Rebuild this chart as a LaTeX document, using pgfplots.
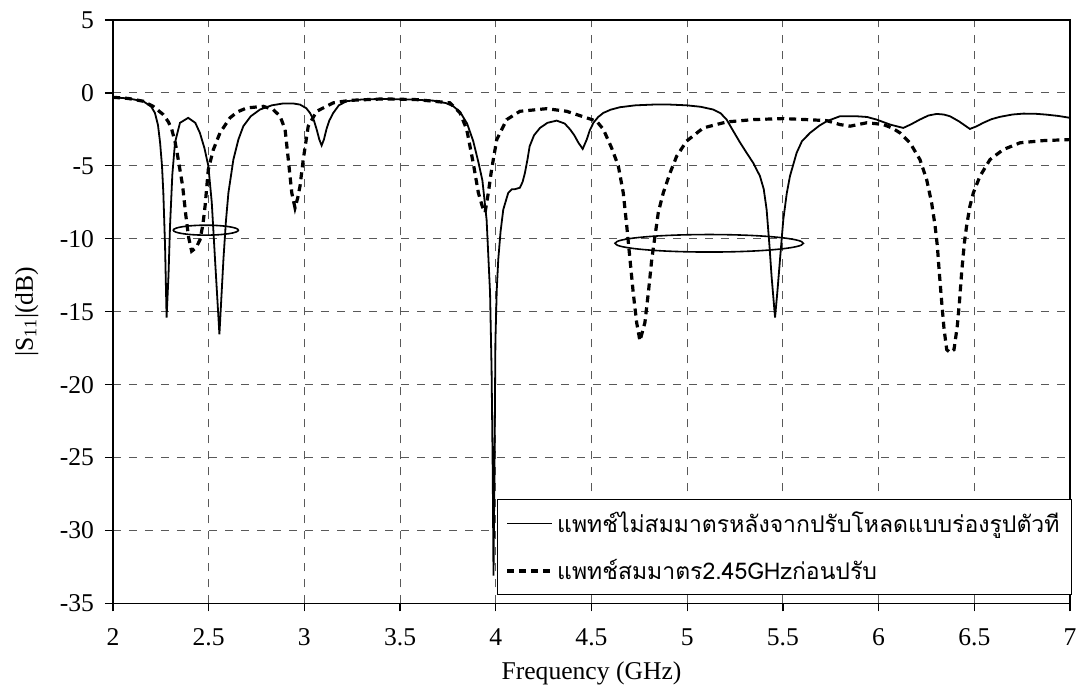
\documentclass[border=0pt]{standalone}
\usepackage{fontspec}
\setmainfont{Liberation Serif}
\newfontfamily\thaifont[Script=Thai]{Loma}
\usepackage{pgfplots}
\pgfplotsset{compat=1.18}
\begin{document}
\begin{tikzpicture}
\begin{axis}[
  scale only axis, width=478.5pt, height=291.7pt,
  xmin=2, xmax=7, ymin=-35, ymax=5,
  xtick={2,2.5,3,3.5,4,4.5,5,5.5,6,6.5,7},
  xticklabels={2,2.5,3,3.5,4,4.5,5,5.5,6,6.5,7},
  ytick={-35,-30,-25,-20,-15,-10,-5,0,5},
  yticklabels={-35,-30,-25,-20,-15,-10,-5,0,5},
  grid=major,
  major grid style={dash pattern=on 4pt off 4pt, black!65, line width=0.5pt},
  tick align=outside, tick pos=left, major tick length=4pt,
  tick style={black, line width=0.6pt},
  axis line style={line width=0.8pt},
  font=\fontsize{12.8}{15}\selectfont,
  xticklabel style={yshift=-5pt},
  yticklabel style={xshift=-2pt},
  xlabel={Frequency (GHz)},
  ylabel={|S\textsubscript{11}|(dB)},
  xlabel style={at={(axis description cs:0.5,-0.1195)}, anchor=center},
  ylabel style={at={(axis description cs:-0.0902,0.5)}, anchor=center},
  legend cell align=left,
  legend style={at={(rel axis cs:0.4013,0.0142)}, anchor=south west,
    draw=black, line width=0.6pt, font=\thaifont\fontsize{11.5}{14}\selectfont,
    row sep=8pt, inner xsep=4pt, inner ysep=4pt},
  legend image code/.code={\draw[#1] (0cm,0cm) -- (0.78cm,0cm);},
]
\addplot[black, line width=0.9pt] coordinates {
(2.000,-0.30) (2.080,-0.38) (2.158,-0.57) (2.200,-0.95) (2.219,-1.37) (2.235,-2.2)
(2.246,-3.4) (2.256,-5.0) (2.263,-6.85) (2.272,-10.5) (2.280,-15.4) (2.290,-12.5)
(2.298,-9.1) (2.310,-5.6) (2.324,-3.4) (2.350,-2.05) (2.393,-1.71) (2.430,-2.05)
(2.454,-2.74) (2.478,-3.8) (2.498,-5.0) (2.516,-7.5) (2.533,-11.4) (2.556,-16.55)
(2.577,-11.4) (2.590,-8.8) (2.603,-6.85) (2.629,-4.57) (2.655,-3.2) (2.681,-2.28)
(2.720,-1.6) (2.768,-1.14) (2.830,-0.85) (2.890,-0.72) (2.940,-0.72) (2.977,-0.8)
(3.010,-1.05) (3.029,-1.37) (3.050,-1.9) (3.064,-2.5) (3.078,-3.2) (3.090,-3.6)
(3.102,-3.2) (3.115,-2.5) (3.130,-1.9) (3.151,-1.37) (3.180,-0.85) (3.220,-0.57)
(3.300,-0.45) (3.412,-0.41) (3.550,-0.45) (3.673,-0.53) (3.740,-0.7) (3.778,-0.92)
(3.813,-1.3) (3.850,-2.1) (3.882,-3.3) (3.910,-4.8) (3.930,-6.0) (3.952,-8.7)
(3.970,-13.7) (3.978,-19.0) (3.984,-26.0) (3.988,-33.1) (3.993,-26.0) (3.998,-17.0)
(4.005,-13.5) (4.013,-11.4) (4.025,-9.5) (4.039,-8.0) (4.065,-6.85) (4.085,-6.6)
(4.100,-6.6) (4.126,-6.5) (4.140,-6.1) (4.152,-5.5) (4.165,-4.6) (4.177,-3.65)
(4.200,-2.9) (4.231,-2.4) (4.270,-2.05) (4.318,-1.9) (4.360,-2.1) (4.388,-2.5)
(4.410,-2.9) (4.431,-3.4) (4.454,-3.84) (4.475,-3.2) (4.490,-2.6) (4.510,-2.05)
(4.535,-1.65) (4.562,-1.37) (4.600,-1.15) (4.649,-0.98) (4.730,-0.85) (4.823,-0.8)
(4.910,-0.8) (4.997,-0.85) (5.070,-0.95) (5.136,-1.14) (5.175,-1.4) (5.206,-1.83)
(5.240,-2.6) (5.276,-3.4) (5.310,-4.1) (5.345,-4.8) (5.380,-5.7) (5.400,-6.6)
(5.415,-8.0) (5.430,-10.5) (5.441,-12.6) (5.459,-15.4) (5.472,-13.5) (5.485,-11.4)
(5.502,-8.7) (5.520,-6.9) (5.537,-5.7) (5.572,-4.1) (5.600,-3.3) (5.642,-2.74)
(5.690,-2.25) (5.729,-1.94) (5.798,-1.6) (5.885,-1.6) (5.940,-1.65) (5.990,-1.83)
(6.060,-2.17) (6.129,-2.4) (6.170,-2.15) (6.215,-1.83) (6.260,-1.55) (6.303,-1.44)
(6.340,-1.48) (6.373,-1.6) (6.420,-1.95) (6.477,-2.47) (6.510,-2.3) (6.547,-2.05)
(6.590,-1.8) (6.634,-1.64) (6.700,-1.48) (6.756,-1.42) (6.820,-1.43) (6.878,-1.49)
(6.940,-1.58) (7.000,-1.71)
};
\addlegendentry{แพทช์ไม่สมมาตรหลังจากปรับโหลดแบบร่องรูปตัวที}
\addplot[black, line width=1.6pt, dash pattern=on 3.5pt off 2.5pt] coordinates {
(2.000,-0.30) (2.080,-0.38) (2.158,-0.57) (2.210,-0.92) (2.263,-1.49) (2.290,-2.0)
(2.307,-2.5) (2.325,-3.4) (2.341,-4.57) (2.364,-6.4) (2.381,-8.45) (2.395,-9.9)
(2.411,-10.85) (2.435,-10.6) (2.455,-10.05) (2.470,-9.0) (2.481,-7.77) (2.498,-5.25)
(2.524,-3.9) (2.559,-2.74) (2.611,-1.71) (2.650,-1.3) (2.699,-1.03) (2.785,-0.92)
(2.837,-1.14) (2.873,-1.6) (2.899,-2.5) (2.916,-4.57) (2.934,-6.85) (2.951,-7.88)
(2.965,-7.2) (2.977,-6.4) (2.994,-4.57) (3.020,-2.28) (3.064,-1.26) (3.151,-0.68)
(3.238,-0.51) (3.412,-0.41) (3.587,-0.46) (3.761,-0.68) (3.813,-1.37) (3.848,-2.5)
(3.882,-4.8) (3.909,-6.85) (3.930,-7.8) (3.944,-8.2) (3.961,-6.85) (3.978,-5.25)
(4.005,-3.2) (4.057,-1.83) (4.126,-1.26) (4.266,-1.08) (4.370,-1.26) (4.475,-1.71)
(4.527,-1.94) (4.562,-2.5) (4.605,-3.77) (4.640,-5.0) (4.666,-6.85) (4.684,-9.1)
(4.701,-11.4) (4.718,-13.7) (4.736,-15.75) (4.753,-17.0) (4.779,-15.75) (4.797,-13.7)
(4.815,-11.4) (4.832,-9.8) (4.849,-8.2) (4.875,-6.85) (4.910,-5.5) (4.945,-4.34)
(4.997,-3.3) (5.084,-2.4) (5.206,-1.99) (5.345,-1.83) (5.502,-1.76) (5.624,-1.83)
(5.729,-1.9) (5.798,-2.17) (5.851,-2.28) (5.900,-2.15) (5.938,-2.05) (5.980,-2.1)
(6.025,-2.17) (6.070,-2.4) (6.112,-2.74) (6.164,-3.42) (6.216,-4.57) (6.251,-5.94)
(6.277,-7.53) (6.295,-9.1) (6.307,-10.5) (6.317,-12.3) (6.330,-14.4) (6.342,-16.2)
(6.356,-17.6) (6.373,-17.8) (6.394,-17.6) (6.411,-16.0) (6.422,-14.4) (6.434,-12.3)
(6.448,-10.3) (6.460,-9.1) (6.477,-7.77) (6.495,-6.85) (6.530,-5.7) (6.582,-4.57)
(6.652,-3.88) (6.739,-3.42) (6.861,-3.27) (7.000,-3.2)
};
\addlegendentry{แพทช์สมมาตร2.45GHzก่อนปรับ}
\draw[black, line width=0.8pt] (axis cs:2.485,-9.41) ellipse [x radius=0.17, y radius=0.34];
\draw[black, line width=0.8pt] (axis cs:5.115,-10.31) ellipse [x radius=0.492, y radius=0.6];
\end{axis}
\pgfresetboundingbox
\path[use as bounding box] ([xshift=-56.5pt,yshift=-42.85pt]current axis.south west) rectangle ([xshift=7.5pt,yshift=10pt]current axis.north east);
\end{tikzpicture}
\end{document}
